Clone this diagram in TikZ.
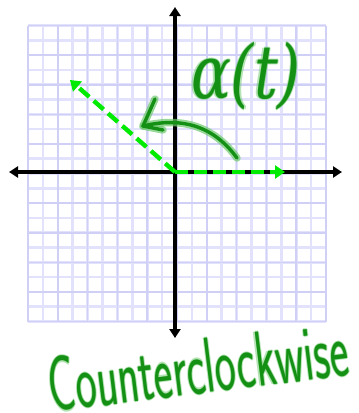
\documentclass[tikz,border=0pt]{standalone}
\usepackage{fontspec}
\newfontfamily\greekfont{DejaVu Serif}
\usetikzlibrary{arrows.meta}
\definecolor{gridminor}{RGB}{226,226,252}
\definecolor{gridmajor}{RGB}{208,208,246}
\definecolor{brightgreen}{RGB}{0,235,0}
\definecolor{inkgreen}{RGB}{20,145,20}
\definecolor{halogreen}{RGB}{110,200,110}
\tikzset{
  axis/.style={line width=3.6pt,-{Triangle[length=9pt,width=11pt]}},
  vector/.style={brightgreen,line width=4.4pt,dash pattern=on 13pt off 6pt,-{Triangle[length=10pt,width=13pt]}},
  ink/.style={inkgreen,line width=3.4pt,line cap=round,line join=round},
  halo/.style={halogreen,line width=7.5pt,line cap=round,line join=round,opacity=0.7},
  alphalbl/.style={xscale=0.8,font=\greekfont\itshape\fontsize{74}{74}\selectfont},
  ccwlbl/.style={rotate=7,xscale=0.57,font=\sffamily\fontsize{78}{78}\selectfont},
}
\begin{document}
\begin{tikzpicture}[x=1pt,y=-1pt]
\useasboundingbox (0,0) rectangle (359,413);
% grid
\foreach \i in {0,...,20}{
  \pgfmathsetmacro{\gx}{28+14.9*\i}
  \pgfmathsetmacro{\gy}{25.5+14.8*\i}
  \draw[gridminor,line width=2.6pt] (\gx,25.5) -- (\gx,321.5);
  \draw[gridminor,line width=2.6pt] (28,\gy) -- (326,\gy);
}
\foreach \i in {0,2,...,20}{
  \pgfmathsetmacro{\gx}{28+14.9*\i}
  \pgfmathsetmacro{\gy}{25.5+14.8*\i}
  \draw[gridmajor,line width=1.6pt] (\gx,25.5) -- (\gx,321.5);
  \draw[gridmajor,line width=1.6pt] (28,\gy) -- (326,\gy);
}
% axes
\coordinate (O) at (175,172);
\coordinate (xl) at (9,172);
\coordinate (xr) at (342,172);
\coordinate (yt) at (175,7);
\coordinate (yb) at (175,338);
\draw[axis] (O) -- (xr);
\draw[axis] (O) -- (xl);
\draw[axis] (O) -- (yt);
\draw[axis] (O) -- (yb);
% vectors
\coordinate (v1) at (285,172);
\coordinate (v2) at (70,80);
\draw[vector] (O) -- (v1);
\draw[vector] (O) -- (v2);
% rotation arrow
\coordinate (a0) at (237,158);
\coordinate (a1) at (143,126);
\coordinate (h1) at (155,99);
\coordinate (h2) at (163,130);
\foreach \s in {halo,ink}{
  \draw[\s] (a0) .. controls (215,128) and (185,116) .. (a1);
  \draw[\s] (h1) -- (a1) -- (h2);
}
% labels (soft halo behind the ink)
\foreach \dx/\dy in {1.1/0,-1.1/0,0/1.1,0/-1.1}{
  \node[halogreen,opacity=0.5,alphalbl] at (246+\dx,76+\dy) {α(t)};
  \node[halogreen,opacity=0.5,ccwlbl] at (198+\dx,367+\dy) {Counterclockwise};
}
\node[inkgreen,alphalbl] (alpha) at (246,76) {α(t)};
\node[inkgreen,ccwlbl] (ccw) at (198,367) {Counterclockwise};
\end{tikzpicture}
\end{document}
